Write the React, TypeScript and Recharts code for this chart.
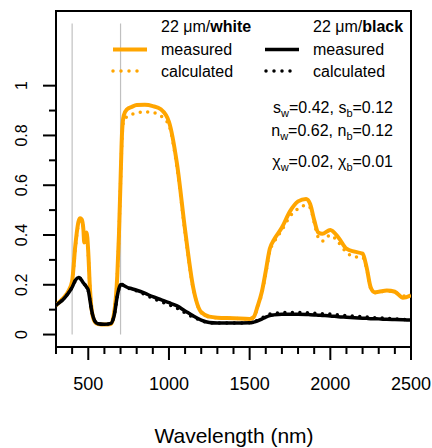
import React from "react";
import { LineChart, Line, XAxis, YAxis, ReferenceLine, ReferenceArea } from "recharts";

const wavelengths = [300, 325, 350, 375, 400, 420, 440, 450, 460, 470, 475, 480, 490, 500, 510, 520, 540, 560, 600, 640, 660, 680, 690, 700, 710, 720, 740, 770, 800, 850, 900, 950, 1000, 1050, 1100, 1150, 1200, 1250, 1300, 1400, 1500, 1525, 1550, 1575, 1600, 1625, 1650, 1700, 1750, 1800, 1850, 1875, 1900, 1925, 1950, 2000, 2050, 2100, 2150, 2200, 2225, 2250, 2275, 2300, 2350, 2400, 2450, 2500];

const whiteMeasured = [0.118, 0.133, 0.15, 0.172, 0.215, 0.36, 0.455, 0.467, 0.462, 0.42, 0.37, 0.385, 0.41, 0.33, 0.19, 0.105, 0.052, 0.042, 0.04, 0.042, 0.085, 0.24, 0.4, 0.62, 0.82, 0.88, 0.905, 0.915, 0.922, 0.923, 0.918, 0.905, 0.855, 0.685, 0.42, 0.19, 0.09, 0.072, 0.068, 0.066, 0.063, 0.07, 0.115, 0.17, 0.255, 0.345, 0.38, 0.43, 0.495, 0.535, 0.545, 0.525, 0.46, 0.41, 0.405, 0.42, 0.39, 0.345, 0.333, 0.325, 0.27, 0.19, 0.17, 0.172, 0.177, 0.172, 0.148, 0.158];

const whiteCalculated = [0.118, 0.133, 0.15, 0.172, 0.21, 0.35, 0.445, 0.458, 0.452, 0.435, 0.425, 0.41, 0.38, 0.32, 0.19, 0.105, 0.052, 0.042, 0.04, 0.042, 0.085, 0.24, 0.4, 0.61, 0.8, 0.86, 0.875, 0.885, 0.89, 0.895, 0.892, 0.878, 0.84, 0.67, 0.41, 0.185, 0.088, 0.07, 0.067, 0.065, 0.062, 0.068, 0.11, 0.165, 0.245, 0.335, 0.37, 0.42, 0.475, 0.505, 0.52, 0.51, 0.45, 0.39, 0.375, 0.4, 0.37, 0.33, 0.312, 0.31, 0.265, 0.185, 0.168, 0.17, 0.175, 0.17, 0.155, 0.16];

const blackMeasured = [0.118, 0.13, 0.145, 0.165, 0.19, 0.218, 0.229, 0.226, 0.217, 0.207, 0.203, 0.199, 0.19, 0.178, 0.14, 0.1, 0.055, 0.043, 0.041, 0.045, 0.075, 0.155, 0.185, 0.2, 0.201, 0.197, 0.19, 0.184, 0.178, 0.166, 0.152, 0.14, 0.128, 0.115, 0.095, 0.075, 0.058, 0.048, 0.046, 0.046, 0.047, 0.05, 0.055, 0.062, 0.07, 0.076, 0.079, 0.082, 0.082, 0.082, 0.081, 0.08, 0.079, 0.078, 0.077, 0.075, 0.072, 0.07, 0.068, 0.066, 0.065, 0.064, 0.0635, 0.063, 0.061, 0.06, 0.059, 0.058];

const blackCalculated = [0.118, 0.13, 0.145, 0.165, 0.19, 0.215, 0.226, 0.224, 0.216, 0.208, 0.204, 0.2, 0.19, 0.175, 0.14, 0.1, 0.055, 0.043, 0.041, 0.045, 0.075, 0.155, 0.185, 0.2, 0.2, 0.195, 0.188, 0.181, 0.175, 0.161, 0.145, 0.132, 0.12, 0.106, 0.087, 0.07, 0.056, 0.047, 0.046, 0.046, 0.048, 0.052, 0.058, 0.067, 0.075, 0.082, 0.085, 0.088, 0.089, 0.089, 0.088, 0.087, 0.086, 0.085, 0.084, 0.082, 0.079, 0.076, 0.074, 0.072, 0.071, 0.069, 0.068, 0.067, 0.065, 0.063, 0.061, 0.06];

const xTicks = [300, 400, 500, 600, 700, 800, 900, 1000, 1100, 1200, 1300, 1400, 1500, 1600, 1700, 1800, 1900, 2000, 2100, 2200, 2300, 2400, 2500];
const xLabelTicks = [500, 1000, 1500, 2000, 2500];
const yTicks = [0, 0.1, 0.2, 0.3, 0.4, 0.5, 0.6, 0.7, 0.8, 0.9, 1];
const yLabelTicks = [0, 0.2, 0.4, 0.6, 0.8, 1];
const yLabelText = ["0", "0.2", "0.4", "0.6", "0.8", "1"];
const markerWavelengths = [400, 700];
const markerTop = 1.25;

const ORANGE = "#FFA500";
const FONT = "'Liberation Sans', Arial, Helvetica, sans-serif";

const data = wavelengths.map((w, i) => ({
  w,
  wm: whiteMeasured[i],
  wc: whiteCalculated[i],
  bm: blackMeasured[i],
  bc: blackCalculated[i],
}));

const XTick = (props: any) => {
  const { x, y, payload } = props;
  const v = payload.value;
  const major = xLabelTicks.includes(v);
  return (
    <g>
      <line x1={x} x2={x} y1={y} y2={y + (major ? 13 : 7)} stroke="#000" strokeWidth={2} />
      {major && (
        <text x={x} y={y + 43} textAnchor="middle" fontSize={18} fontFamily={FONT} fill="#000">
          {v}
        </text>
      )}
    </g>
  );
};

const YTick = (props: any) => {
  const { x, y, payload } = props;
  const v = payload.value;
  const li = yLabelTicks.findIndex((t) => Math.abs(t - v) < 1e-6);
  const major = li >= 0;
  return (
    <g>
      <line x1={x - (major ? 13 : 7)} x2={x} y1={y} y2={y} stroke="#000" strokeWidth={2} />
      {major && (
        <text
          x={27}
          y={y}
          transform={`rotate(-90, 27, ${y})`}
          textAnchor="middle"
          fontSize={16}
          fontFamily={FONT}
          fill="#000"
        >
          {yLabelText[li]}
        </text>
      )}
    </g>
  );
};

const SUB = 11;
const SHIFT = 4;

const Annot = ({ y, sym, w, b }: { y: number; sym: string; w: string; b: string }) => (
  <text x={393} y={y} fontSize={16} fill="#000" textAnchor="end">
    <tspan>{sym}</tspan>
    <tspan fontSize={SUB} dy={SHIFT}>w</tspan>
    <tspan dy={-SHIFT}>{`=${w}, ${sym}`}</tspan>
    <tspan fontSize={SUB} dy={SHIFT}>b</tspan>
    <tspan dy={-SHIFT}>{`=${b}`}</tspan>
  </text>
);

export default function App() {
  return (
    <div style={{ position: "absolute", left: 0, top: 0, width: 432, height: 448, background: "#fff" }}>
      <LineChart width={432} height={448} data={data} margin={{ top: 11, right: 21, bottom: 0, left: 0 }}>
        <XAxis
          dataKey="w"
          type="number"
          domain={[300, 2500]}
          ticks={xTicks}
          interval={0}
          height={101}
          axisLine={false}
          tickLine={false}
          tickSize={0}
          tickMargin={0}
          tick={<XTick />}
          allowDataOverflow
        />
        <YAxis
          type="number"
          domain={[-0.05, 1.3]}
          ticks={yTicks}
          interval={0}
          width={56}
          axisLine={false}
          tickLine={false}
          tickSize={0}
          tickMargin={0}
          tick={<YTick />}
          allowDataOverflow
        />
        {markerWavelengths.map((m) => (
          <ReferenceLine
            key={m}
            segment={[{ x: m, y: 0 }, { x: m, y: markerTop }]}
            stroke="#c0c0c0"
            strokeWidth={1.2}
          />
        ))}
        <Line dataKey="wm" type="monotone" stroke={ORANGE} strokeWidth={4} dot={false} isAnimationActive={false} />
        <Line
          dataKey="wc"
          type="monotone"
          stroke={ORANGE}
          strokeWidth={3.5}
          strokeDasharray="0 7.5"
          strokeLinecap="round"
          dot={false}
          isAnimationActive={false}
        />
        <Line dataKey="bm" type="monotone" stroke="#000" strokeWidth={3.5} dot={false} isAnimationActive={false} />
        <Line
          dataKey="bc"
          type="monotone"
          stroke="#000"
          strokeWidth={3.5}
          strokeDasharray="0 7.5"
          strokeLinecap="round"
          dot={false}
          isAnimationActive={false}
        />
        <ReferenceArea x1={300} x2={2500} y1={-0.05} y2={1.3} fill="none" stroke="#000" strokeWidth={2} ifOverflow="visible" />
      </LineChart>
      <svg
        width={432}
        height={448}
        style={{ position: "absolute", left: 0, top: 0, pointerEvents: "none" }}
        fontFamily={FONT}
      >
        <text x={161} y={32} fontSize={16} fill="#000">
          22 μm/<tspan fontWeight="bold">white</tspan>
        </text>
        <text x={313} y={32} fontSize={16} fill="#000">
          22 μm/<tspan fontWeight="bold">black</tspan>
        </text>
        <line x1={113} x2={147} y1={49.5} y2={49.5} stroke={ORANGE} strokeWidth={4} />
        <line x1={113} x2={140} y1={71} y2={71} stroke={ORANGE} strokeWidth={3.5} strokeDasharray="0 8" strokeLinecap="round" />
        <line x1={265} x2={299} y1={49.5} y2={49.5} stroke="#000" strokeWidth={3.5} />
        <line x1={266} x2={292} y1={71} y2={71} stroke="#000" strokeWidth={3.5} strokeDasharray="0 8" strokeLinecap="round" />
        <text x={161} y={55} fontSize={16} fill="#000">measured</text>
        <text x={161} y={76.5} fontSize={16} fill="#000">calculated</text>
        <text x={313} y={55} fontSize={16} fill="#000">measured</text>
        <text x={313} y={76.5} fontSize={16} fill="#000">calculated</text>
        <Annot y={113} sym="s" w="0.42" b="0.12" />
        <Annot y={135.5} sym="n" w="0.62" b="0.12" />
        <Annot y={166.5} sym="χ" w="0.02" b="0.01" />
        <text x={234} y={443} fontSize={21} fill="#000" textAnchor="middle">
          Wavelength (nm)
        </text>
      </svg>
    </div>
  );
}
